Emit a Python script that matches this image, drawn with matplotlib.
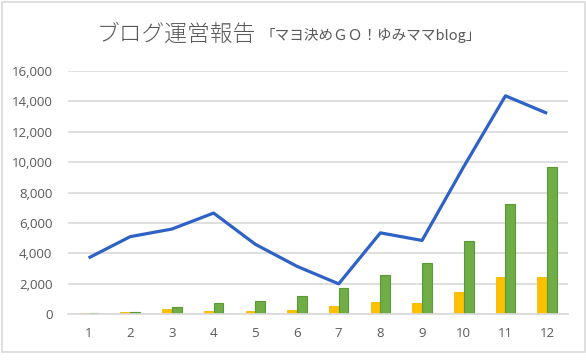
import matplotlib
matplotlib.use("Agg")
import matplotlib.pyplot as plt
from matplotlib.patches import Rectangle
import numpy as np

months = ["1", "2", "3", "4", "5", "6", "7", "8", "9", "10", "11", "12"]
pageviews = [3700, 5100, 5600, 6650, 4600, 3150, 2000, 5350, 4850, 9700, 14350, 13200]
orange_vals = [60, 130, 330, 200, 200, 280, 560, 830, 720, 1460, 2430, 2430]
green_vals = [80, 130, 480, 720, 890, 1200, 1750, 2560, 3370, 4810, 7220, 9690]
y_ticks = [0, 2000, 4000, 6000, 8000, 10000, 12000, 14000, 16000]

title_main = "ブログ運営報告"
title_sub = "「マヨ決めＧＯ！ゆみママblog」"

W, H = 586, 360
fig = plt.figure(figsize=(W / 100, H / 100), dpi=100)
ax = fig.add_axes([67.7 / W, 45.7 / H, 500.3 / W, 243.6 / H])

x = np.arange(len(months))
bw = 0.235
ax.bar(x - bw / 2, orange_vals, width=bw, color="#FFC000", edgecolor="#F5B800", linewidth=0.6, zorder=2)
ax.bar(x + bw / 2, green_vals, width=bw, color="#70AD47", edgecolor="#5A9A35", linewidth=0.8, zorder=2)
ax.plot(x, pageviews, color="#2F62C6", linewidth=2.3, zorder=3, solid_capstyle="butt")

ax.set_xlim(-0.5, len(months) - 0.5)
ax.set_ylim(0, 16000)
ax.set_yticks(y_ticks)
ax.set_yticklabels([f"{v:,}" for v in y_ticks])
ax.set_xticks(x)
ax.set_xticklabels(months)

ax.grid(axis="y", color="#D9D9D9", linewidth=1.2, zorder=0)
ax.set_axisbelow(True)
for s in ["top", "right", "left"]:
    ax.spines[s].set_visible(False)
ax.spines["bottom"].set_color("#D9D9D9")
ax.spines["bottom"].set_linewidth(1.2)

ax.tick_params(axis="both", length=0, labelcolor="#595959", labelsize=9.5)
ax.tick_params(axis="y", pad=11)
ax.tick_params(axis="x", pad=9)
for lbl in ax.get_xticklabels() + ax.get_yticklabels():
    lbl.set_fontfamily(["Open Sans", "DejaVu Sans"])

fig.text(97 / W, 1 - 41 / H, title_main, fontsize=16.4, color="#595959",
         family=["Noto Sans CJK JP", "DejaVu Sans"], weight="light", va="baseline")
fig.text(261 / W, 1 - 40 / H, title_sub, fontsize=10.5, color="#595959",
         family=["Noto Sans CJK JP", "DejaVu Sans"], va="baseline")

fig.add_artist(Rectangle((1.5 / W, 8.5 / H), 583 / W, 350 / H, transform=fig.transFigure,
                         fill=False, edgecolor="#D9D9D9", linewidth=1.2))

fig.savefig("out.png", dpi=100)
